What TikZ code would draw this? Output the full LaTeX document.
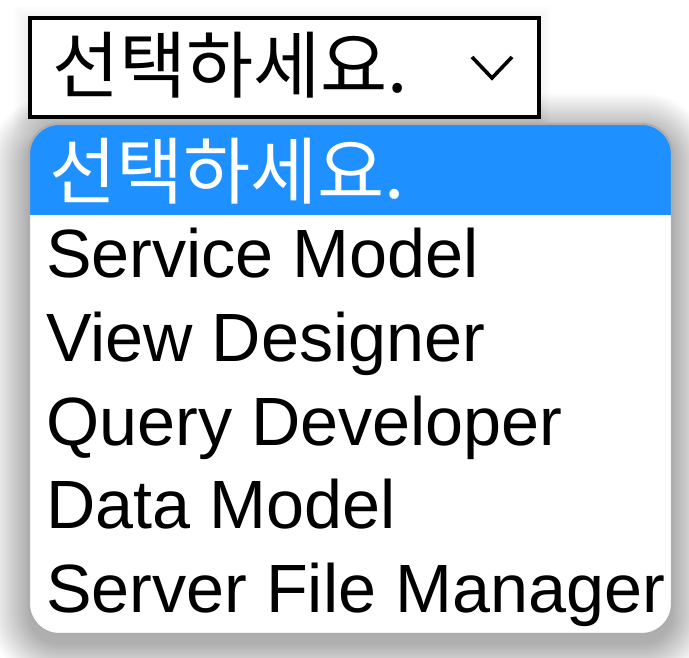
\documentclass[tikz,border=0pt]{standalone}
\usepackage{fontspec}
\setmainfont{Liberation Sans}
\newfontfamily\kofont{Noto Sans CJK KR}
\definecolor{selblue}{HTML}{1E90FF}
\definecolor{listborder}{HTML}{ADADAD}
\tikzset{
  itemtext/.style={anchor=base west, inner sep=0pt, font=\fontsize{68.3}{80}\selectfont, text=black},
  kotext/.style={anchor=base west, inner sep=0pt, font=\kofont\fontsize{73}{86}\selectfont},
}
\begin{document}
\begin{tikzpicture}[x=1pt,y=-1pt]
\useasboundingbox (0,0) rectangle (689,658);
\fill[white] (0,0) rectangle (689,658);
% shadow of the list
\foreach \i in {1,...,40}{
  \fill[black, opacity=0.0075, rounded corners={30+\i}] ({29-\i},{124-\i+9}) rectangle ({672+\i},{634+\i+9});
}
% faint shadow around select box
\foreach \i in {1,...,14}{
  \fill[black, opacity=0.004] ({27-\i},{16-\i+4}) rectangle ({537+\i},{115+\i+4});
}
% select box
\node[draw=black, line width=4pt, fill=white, minimum width=509.5pt, minimum height=99.5pt, inner sep=0pt, anchor=north west] (select) at (27.5,16) {};
\node[kotext, text=black] (seltext) at (52,93) {선택하세요.};
\coordinate (chevA) at (472,57);
\coordinate (chevB) at (492,78);
\coordinate (chevC) at (512,57);
\draw[line width=3.6pt, line join=miter] (chevA) -- (chevB) -- (chevC);
% dropdown list
\node[fill=white, rounded corners=30pt, minimum width=643pt, minimum height=510pt, inner sep=0pt, anchor=north west] (list) at (29,124) {};
\begin{scope}
  \clip[rounded corners=30pt] (29,124) rectangle (672,634);
  \fill[selblue] (29,124) rectangle (672,215);
\end{scope}
\draw[listborder, line width=2.2pt, rounded corners=30pt] (29,124) rectangle (672,634);
\node[kotext, text=white] (opt0) at (49,199) {선택하세요.};
\node[itemtext] (opt1) at (46,277) {Service Model};
\node[itemtext] (opt2) at (46,361) {View Designer};
\node[itemtext] (opt3) at (46,445) {Query Developer};
\node[itemtext] (opt4) at (46,528) {Data Model};
\node[itemtext] (opt5) at (46,612) {Server File Manager};
\end{tikzpicture}
\end{document}
